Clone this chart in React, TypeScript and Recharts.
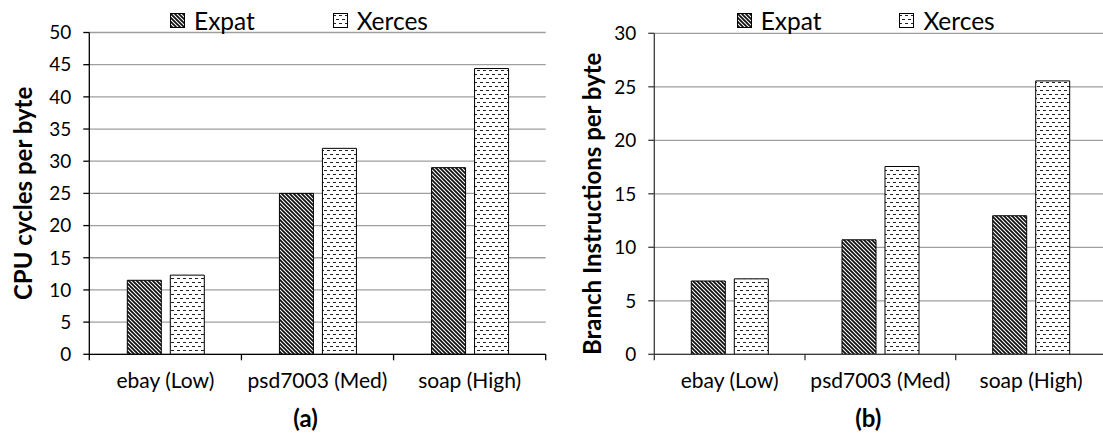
import React from 'react';
import { BarChart, Bar, XAxis, YAxis, CartesianGrid, Legend } from 'recharts';

const categories = ['ebay (Low)', 'psd7003 (Med)', 'soap (High)'];
const seriesNames = ['Expat', 'Xerces'];
const cyclesExpat = [11.5, 25.0, 29.0];
const cyclesXerces = [12.3, 32.0, 44.4];
const branchExpat = [6.85, 10.7, 12.95];
const branchXerces = [7.05, 17.55, 25.55];
const cyclesTicks = [0, 5, 10, 15, 20, 25, 30, 35, 40, 45, 50];
const branchTicks = [0, 5, 10, 15, 20, 25, 30];
const axisTitles = ['CPU cycles per byte', 'Branch Instructions per byte'];
const panelLabels = ['(a)', '(b)'];

const FONT = "Lato, 'Open Sans', sans-serif";

const cyclesData = categories.map((name, i) => ({ name, expat: cyclesExpat[i], xerces: cyclesXerces[i] }));
const branchData = categories.map((name, i) => ({ name, expat: branchExpat[i], xerces: branchXerces[i] }));

function Patterns({ prefix }: { prefix: string }) {
  return (
    <defs>
      <pattern id={`${prefix}-expat`} width="4" height="4" patternUnits="userSpaceOnUse">
        <rect width="4" height="4" fill="#fff" />
        <path d="M-1,-1 L5,5 M-1,3 L1,5 M3,-1 L5,1" stroke="#111" strokeWidth="1.8" />
      </pattern>
      <pattern id={`${prefix}-xerces`} width="6" height="8" patternUnits="userSpaceOnUse">
        <rect width="6" height="8" fill="#fff" />
        <path d="M0,2.5 L3,2.5 M3,6.5 L6,6.5" stroke="#222" strokeWidth="1" />
      </pattern>
    </defs>
  );
}

type PanelProps = {
  data: any[];
  ticks: number[];
  domainMax: number;
  title: string;
  panelLabel: string;
  prefix: string;
  plotLeft: number;
  plotRight: number;
  plotTop: number;
  titleX: number;
  titleDy: number;
  labelDx: number;
  legendLeft: number;
  axisColor: string;
};

function Panel(p: PanelProps) {
  const W = 560;
  const H = 437;
  const yAxisWidth = 80;
  const xAxisHeight = 80;
  const plotBottom = 354.3;
  const margin = {
    top: p.plotTop,
    right: W - p.plotRight,
    bottom: H - plotBottom - xAxisHeight,
    left: p.plotLeft - yAxisWidth,
  };
  const band = (p.plotRight - p.plotLeft) / categories.length;

  const XTick = (props: any) => {
    const { x, y, payload, index } = props;
    const last = index === categories.length - 1;
    return (
      <g>
        <line x1={x - band / 2} x2={x - band / 2} y1={y} y2={y + 6} stroke={p.axisColor} strokeWidth={1.3} />
        {last && <line x1={x + band / 2} x2={x + band / 2} y1={y} y2={y + 6} stroke={p.axisColor} strokeWidth={1.3} />}
        <text x={x} y={y + 34} textAnchor="middle" fontFamily={FONT} fontSize={21} fill="#000">
          {payload.value}
        </text>
      </g>
    );
  };

  const TitleLabel = (props: any) => {
    const vb = props.viewBox || {};
    const cx = p.titleX;
    const cy = vb.y + vb.height / 2 + p.titleDy;
    return (
      <text
        x={cx}
        y={cy}
        transform={`rotate(-90, ${cx}, ${cy})`}
        textAnchor="middle"
        dominantBaseline="central"
        fontFamily={FONT}
        fontWeight="bold"
        fontSize={24}
        fill="#000"
      >
        {p.title}
      </text>
    );
  };

  const PanelLabel = (props: any) => {
    const vb = props.viewBox || {};
    return (
      <text
        x={vb.x + vb.width / 2 + p.labelDx}
        y={vb.y + vb.height - 7}
        textAnchor="middle"
        fontFamily={FONT}
        fontWeight="bold"
        fontSize={24}
        fill="#000"
      >
        {p.panelLabel}
      </text>
    );
  };

  const renderLegend = (props: any) => {
    const payload = (props && props.payload) || [];
    const items = payload.length ? payload.map((e: any) => ({ name: e.value, key: e.dataKey })) : seriesNames.map((n, i) => ({ name: n, key: i === 0 ? 'expat' : 'xerces' }));
    return (
      <div style={{ display: 'flex', alignItems: 'center', fontFamily: FONT, fontSize: 24.5, color: '#000', whiteSpace: 'nowrap' }}>
        {items.map((it: any, i: number) => (
          <div key={it.name} style={{ display: 'flex', alignItems: 'center', width: i === 0 ? 162.7 : 'auto' }}>
            <svg width={15} height={15} style={{ display: 'block' }}>
              <Patterns prefix={`${p.prefix}-lg${i}`} />
              <rect x={0.5} y={0.5} width={14} height={14} fill={`url(#${p.prefix}-lg${i}-${it.key})`} stroke="#000" strokeWidth={1} />
            </svg>
            <span style={{ marginLeft: 9, lineHeight: 1.2 }}>{it.name}</span>
          </div>
        ))}
      </div>
    );
  };

  return (
    <BarChart width={W} height={H} data={p.data} margin={margin} barSize={34} barGap={9}>
      <Patterns prefix={p.prefix} />
      <CartesianGrid vertical={false} stroke="#9e9e9e" strokeWidth={1.3} />
      <XAxis
        dataKey="name"
        height={xAxisHeight}
        tickSize={0}
        tickMargin={0}
        tickLine={false}
        interval={0}
        axisLine={{ stroke: p.axisColor, strokeWidth: 1.3 }}
        tick={<XTick />}
        label={{ content: <PanelLabel /> } as any}
      />
      <YAxis
        width={yAxisWidth}
        domain={[0, p.domainMax]}
        ticks={p.ticks}
        interval={0}
        tickSize={6}
        tickMargin={12}
        axisLine={{ stroke: p.axisColor, strokeWidth: 1.3 }}
        tickLine={{ stroke: p.axisColor, strokeWidth: 1.3 }}
        tick={{ fill: '#000', fontSize: 19, fontFamily: FONT }}
        label={{ content: <TitleLabel /> } as any}
      />
      <Legend
        verticalAlign="middle"
        layout="horizontal"
        content={renderLegend}
        wrapperStyle={{ top: 6, left: p.legendLeft, width: 'auto', height: 'auto' }}
      />
      <Bar dataKey="expat" name={seriesNames[0]} fill={`url(#${p.prefix}-expat)`} stroke="#000" strokeWidth={1} isAnimationActive={false} />
      <Bar dataKey="xerces" name={seriesNames[1]} fill={`url(#${p.prefix}-xerces)`} stroke="#000" strokeWidth={1} isAnimationActive={false} />
    </BarChart>
  );
}

export default function App() {
  return (
    <div style={{ position: 'absolute', left: 0, top: 0, width: 1103, height: 437, overflow: 'hidden', background: '#fff', fontFamily: FONT }}>
      <div style={{ position: 'absolute', left: 0, top: 0 }}>
        <Panel
          data={cyclesData}
          ticks={cyclesTicks}
          domainMax={50}
          title={axisTitles[0]}
          panelLabel={panelLabels[0]}
          prefix="pa"
          plotLeft={89.3}
          plotRight={545.7}
          plotTop={32.5}
          titleX={23}
          titleDy={0}
          labelDx={-12}
          legendLeft={170}
          axisColor="#000"
        />
      </div>
      <div style={{ position: 'absolute', left: 560, top: 0 }}>
        <Panel
          data={branchData}
          ticks={branchTicks}
          domainMax={30}
          title={axisTitles[1]}
          panelLabel={panelLabels[1]}
          prefix="pb"
          plotLeft={94.3}
          plotRight={546.4}
          plotTop={33.3}
          titleX={32}
          titleDy={10}
          labelDx={-12}
          legendLeft={176.7}
          axisColor="#3a3a3a"
        />
      </div>
    </div>
  );
}
